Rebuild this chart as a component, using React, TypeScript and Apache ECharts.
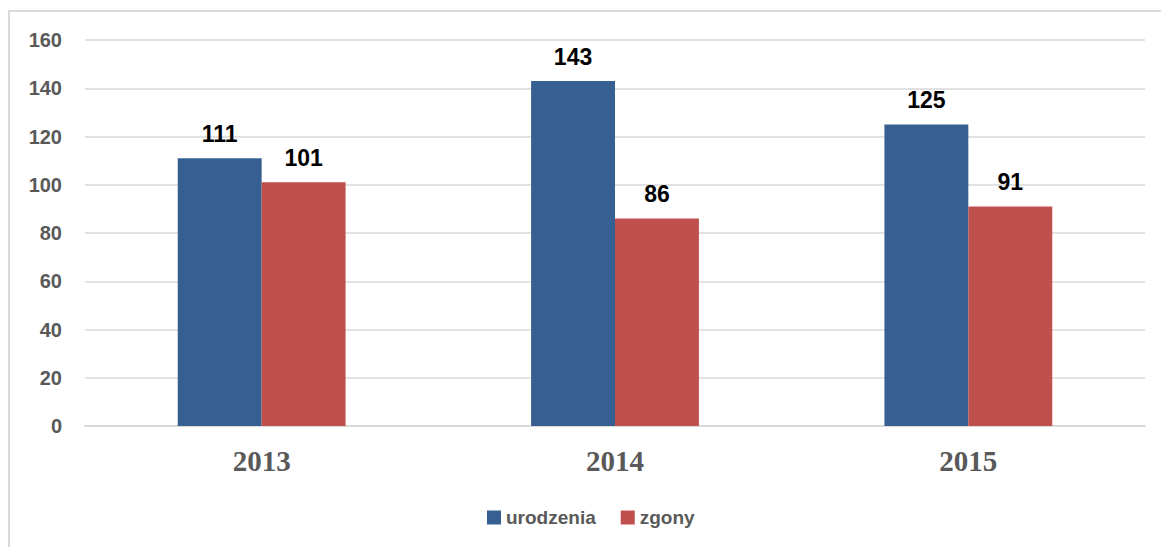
import React, { useEffect, useRef } from "react";
import * as echarts from "echarts";

const categories = ["2013", "2014", "2015"];
const urodzenia = [111, 143, 125];
const zgony = [101, 86, 91];
const seriesNames = ["urodzenia", "zgony"];

export default function App() {
  const ref = useRef<HTMLDivElement>(null);
  useEffect(() => {
    document.body.style.margin = "0";
    document.body.style.overflow = "hidden";
    const chart = echarts.init(ref.current!, null, { renderer: "svg" });
    const labelFont = "'Liberation Sans', Arial, sans-serif";
    chart.setOption({
      animation: false,
      backgroundColor: "#ffffff",
      graphic: [
        { type: "line", shape: { x1: 9, y1: 10, x2: 9, y2: 547 }, style: { stroke: "#d9d9d9", lineWidth: 2 } },
        { type: "line", shape: { x1: 8, y1: 11, x2: 1161, y2: 11 }, style: { stroke: "#d9d9d9", lineWidth: 2 } },
      ],
      grid: { left: 85, right: 16, top: 40, bottom: 121, containLabel: false },
      legend: {
        data: seriesNames,
        top: 503,
        left: 482,
        itemWidth: 14,
        itemHeight: 14,
        itemGap: 25,
        icon: "rect",
        textStyle: { color: "#595959", fontWeight: "bold", fontSize: 19, fontFamily: labelFont },
      },
      xAxis: {
        type: "category",
        data: categories,
        axisTick: { show: false },
        axisLine: { lineStyle: { color: "#d9d9d9", width: 2 } },
        axisLabel: {
          color: "#595959",
          fontWeight: "bold",
          fontSize: 29,
          fontFamily: "'Liberation Serif', 'Times New Roman', serif",
          margin: 20,
        },
      },
      yAxis: {
        type: "value",
        min: 0,
        max: 160,
        interval: 20,
        axisLine: { show: false },
        axisTick: { show: false },
        splitLine: { lineStyle: { color: "#d9d9d9", width: 1.5 } },
        axisLabel: {
          color: "#595959",
          fontWeight: "bold",
          fontSize: 20,
          fontFamily: labelFont,
          margin: 23,
        },
      },
      series: [
        {
          name: seriesNames[0],
          type: "bar",
          data: urodzenia,
          barGap: "0%",
          barCategoryGap: "52.5%",
          itemStyle: { color: "#376092" },
          label: {
            show: true,
            position: "top",
            distance: 13,
            color: "#000000",
            fontWeight: "bold",
            fontSize: 23,
            fontFamily: labelFont,
          },
        },
        {
          name: seriesNames[1],
          type: "bar",
          data: zgony,
          itemStyle: { color: "#C0504D" },
          label: {
            show: true,
            position: "top",
            distance: 13,
            color: "#000000",
            fontWeight: "bold",
            fontSize: 23,
            fontFamily: labelFont,
          },
        },
      ],
    });
    return () => chart.dispose();
  }, []);
  return <div ref={ref} style={{ position: "fixed", left: 0, top: 0, width: 1161, height: 547 }} />;
}
